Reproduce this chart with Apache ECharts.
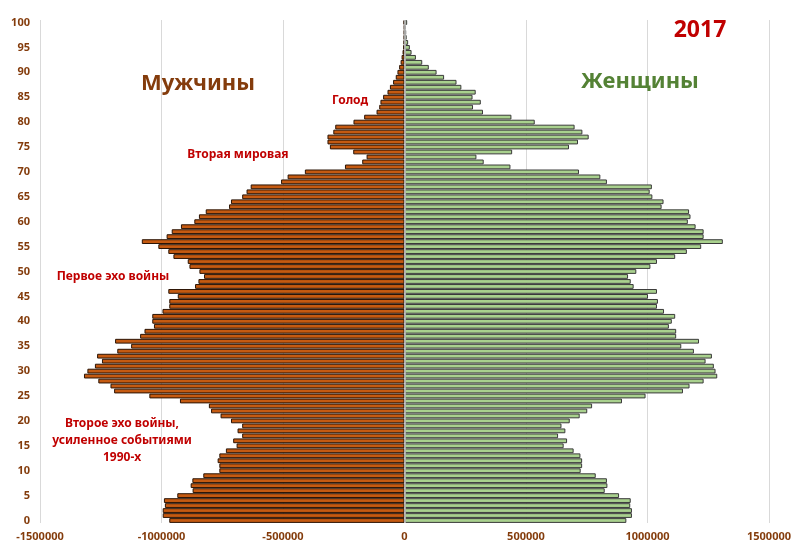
<!DOCTYPE html>
<html><head><meta charset="utf-8">
<script src="https://cdn.jsdelivr.net/npm/echarts@6/dist/echarts.min.js"></script>
<style>html,body{margin:0;padding:0;background:#fff}#c{width:800px;height:549px}</style>
</head><body><div id="c"></div>
<script>
const ages = [0,1,2,3,4,5,6,7,8,9,10,11,12,13,14,15,16,17,18,19,20,21,22,23,24,25,26,27,28,29,30,31,32,33,34,35,36,37,38,39,40,41,42,43,44,45,46,47,48,49,50,51,52,53,54,55,56,57,58,59,60,61,62,63,64,65,66,67,68,69,70,71,72,73,74,75,76,77,78,79,80,81,82,83,84,85,86,87,88,89,90,91,92,93,94,95,96,97,98,99,100];
const men = [968000,995000,995000,986000,990000,935000,872000,880000,873000,828000,
762000,762000,769000,762000,735000,691000,705000,668000,687000,668000,
714000,757000,796000,805000,924000,1050000,1195000,1210000,1260000,1319000,
1305000,1274000,1245000,1265000,1182000,1125000,1191000,1088000,1070000,1031000,
1038000,1038000,996000,968000,968000,933000,972000,862000,848000,825000,
844000,885000,892000,951000,972000,1013000,1081000,979000,958000,920000,
865000,846000,818000,722000,714000,668000,650000,633000,508000,481000,
410000,245000,174000,156000,211000,307000,317000,317000,293000,285000,
210000,166000,115000,104000,99000,88000,70000,60000,47000,36000,
29000,22000,16000,12000,8000,5500,4000,3000,2500,2000,4000];
const women = [913000,936000,936000,929000,931000,883000,824000,835000,833000,787000,
725000,731000,731000,724000,696000,655000,669000,632000,662000,646000,
680000,721000,752000,772000,895000,992000,1146000,1173000,1231000,1287000,
1280000,1273000,1239000,1265000,1191000,1139000,1212000,1118000,1118000,1088000,
1100000,1114000,1068000,1039000,1043000,1002000,1039000,943000,931000,920000,
954000,1012000,1039000,1114000,1162000,1221000,1310000,1231000,1231000,1198000,
1166000,1177000,1171000,1058000,1066000,1020000,1009000,1018000,833000,806000,
718000,436000,326000,296000,443000,677000,714000,758000,732000,700000,
536000,440000,323000,282000,314000,280000,293000,234000,214000,163000,
132000,100000,73000,47000,29000,22000,15000,9000,7000,5000,11000];
const menNeg = men.map(v => -v);

const FONT = '"Noto Sans", "Open Sans", sans-serif';
function txt(x, y, text, fill, size, lh) {
  return {type:'text', x:x, y:y, z:100,
    style:{text:text, fill:fill, font:'bold '+size+'px '+FONT, textAlign:'center', textVerticalAlign:'middle', lineHeight:lh||size*1.2}};
}
const chart = echarts.init(document.getElementById('c'), null, {renderer:'canvas'});
chart.setOption({
  animation:false,
  backgroundColor:'#fff',
  grid:{left:40, right:31, top:20, bottom:26, containLabel:false},
  xAxis:{type:'value', min:-1500000, max:1500000, interval:500000,
    axisLine:{show:false}, axisTick:{show:false},
    splitLine:{show:true, lineStyle:{color:'#d9d9d9', width:1}},
    axisLabel:{color:'#843C0C', fontWeight:'bold', fontSize:11, fontFamily:FONT, margin:8,
      formatter: v => String(v)}},
  yAxis:{type:'category', data:ages, boundaryGap:true,
    axisLine:{show:false, onZero:false}, axisTick:{show:false},
    axisLabel:{interval:4, color:'#843C0C', fontWeight:'bold', fontSize:11, fontFamily:FONT, margin:10}},
  series:[
    {name:'Мужчины', type:'bar', data:menNeg, barGap:'-100%', barCategoryGap:'4%',
     itemStyle:{color:'#C55A11', borderColor:'#2b1405', borderWidth:1}},
    {name:'Женщины', type:'bar', data:women, barGap:'-100%', barCategoryGap:'4%',
     itemStyle:{color:'#A9D18E', borderColor:'#3a3a3a', borderWidth:1},
     markLine:{silent:true, symbol:'none', label:{show:false}, animation:false,
       lineStyle:{color:'#c8c8c8', width:1.5, type:'solid'}, data:[{xAxis:0}]}}
  ],
  graphic:[
    txt(198, 84, 'Мужчины', '#843C0C', 22),
    txt(640, 82, 'Женщины', '#548235', 22),
    txt(700, 30, '2017', '#C00000', 23),
    txt(350, 101, 'Голод', '#C00000', 12),
    txt(238, 155, 'Вторая мировая', '#C00000', 12),
    txt(113, 277, 'Первое эхо войны', '#C00000', 12),
    txt(122, 441, 'Второе эхо войны,\nусиленное событиями\n1990-х', '#C00000', 12, 17)
  ]
});
</script></body></html>
